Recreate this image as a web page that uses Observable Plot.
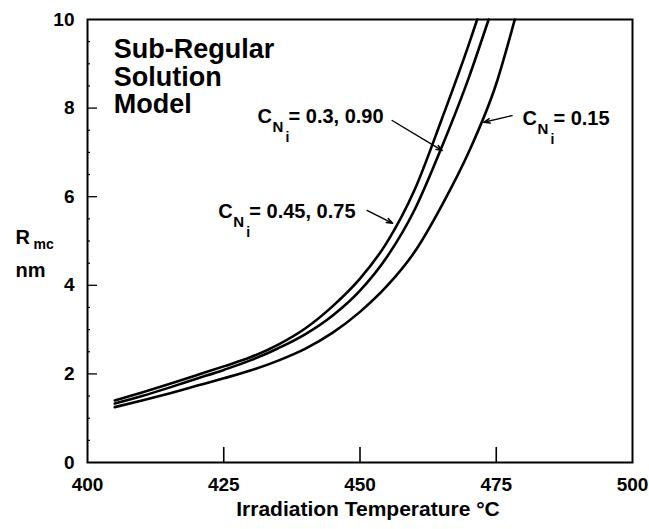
<!DOCTYPE html>
<html><head><meta charset="utf-8">
<script src="https://cdn.jsdelivr.net/npm/d3@7"></script>
<script src="https://cdn.jsdelivr.net/npm/@observablehq/plot@0.6"></script>
<style>body{margin:0;background:#fff}</style>
</head><body><div id="chart"></div>
<script>
// Axis ticks
const xTicks = [400, 425, 450, 475, 500];
const xInnerTicks = [425, 450, 475];
const yTicks = [0, 2, 4, 6, 8, 10];
const yMajorInner = [2, 4, 6, 8];
const yMinorInner = [0.5, 1, 1.5, 2.5, 3, 3.5, 4.5, 5, 5.5, 6.5, 7, 7.5, 8.5, 9, 9.5];

// Curve: C_Ni = 0.45, 0.75 (left curve)
const tempA = [405, 410, 415, 420, 425, 430, 435, 440, 445, 450, 455, 460, 465, 470, 471.5];
const radA  = [1.40, 1.58, 1.77, 1.97, 2.17, 2.38, 2.66, 3.03, 3.53, 4.15, 4.98, 6.15, 7.75, 9.45, 10.0];
// Curve: C_Ni = 0.3, 0.90 (middle curve)
const tempB = [405, 410, 415, 420, 425, 430, 435, 440, 445, 450, 455, 460, 465, 470, 473.6];
const radB  = [1.33, 1.50, 1.69, 1.89, 2.09, 2.31, 2.58, 2.90, 3.32, 3.88, 4.65, 5.70, 7.12, 8.70, 10.0];
// Curve: C_Ni = 0.15 (right curve)
const tempC = [405, 410, 415, 420, 425, 430, 435, 440, 445, 450, 455, 460, 465, 470, 475, 478.4];
const radC  = [1.25, 1.40, 1.56, 1.73, 1.90, 2.08, 2.30, 2.57, 2.93, 3.40, 3.99, 4.75, 5.80, 7.02, 8.55, 10.0];

// Annotations
const labelNames = ["= 0.3, 0.90", "= 0.45, 0.75", "= 0.15"];
const labelT = [431.2, 424.0, 479.8];
const labelR = [7.67, 5.53, 7.61];
const arrowT1 = [455.9, 451.3, 477.9];
const arrowR1 = [7.72, 5.69, 7.83];
const arrowT2 = [465.1, 456.0, 472.7];
const arrowR2 = [7.04, 5.40, 7.68];

const modelText = ["Sub-Regular", "Solution", "Model"];
const modelT = [404.8];
const modelR = [9.565];
const xTitle = "Irradiation Temperature °C";
const yTitle = "R", yTitleSub = "mc", yUnit = "nm";
const yTitleR = [4.94, 4.18];

const series = [
  {name: "0.45, 0.75", T: tempA, R: radA},
  {name: "0.3, 0.90", T: tempB, R: radB},
  {name: "0.15", T: tempC, R: radC}
];
const curveData = series.flatMap(s => s.T.map((t, i) => ({series: s.name, T: t, R: s.R[i]})));
const labels = labelNames.map((txt, i) => ({txt, T: labelT[i], R: labelR[i]}));
const arrows = arrowT1.map((t, i) => ({x1: t, y1: arrowR1[i], x2: arrowT2[i], y2: arrowR2[i]}));

const W = 649, H = 529, mL = 87, mR = 17, mT = 19, mB = 67;
const fw = W - mL - mR, fh = H - mT - mB;
const font = "'Liberation Sans', Arial, Helvetica, sans-serif";

const chart = Plot.plot({
  width: W, height: H,
  marginLeft: mL, marginRight: mR, marginTop: mT, marginBottom: mB,
  x: {domain: [400, 500]},
  y: {domain: [0, 10]},
  style: {fontFamily: font, fontSize: "19px", fontWeight: "bold", background: "white", color: "black"},
  marks: [
    Plot.axisX({ticks: xTicks, tickSize: 0, tickPadding: 15, label: null, tickFormat: d => String(d)}),
    Plot.axisY({ticks: yTicks, tickSize: 0, tickPadding: 13, label: null, tickFormat: d => String(d)}),
    Plot.tickX(xInnerTicks, {x: d => d, insetTop: fh - 15, strokeWidth: 1.6}),
    Plot.tickY(yMajorInner, {y: d => d, insetRight: fw - 10, strokeWidth: 1.3}),
    Plot.tickY(yMinorInner, {y: d => d, insetRight: fw - 3, strokeWidth: 1.2}),
    Plot.frame({stroke: "black", strokeWidth: 2}),
    Plot.line(curveData, {x: "T", y: "R", z: "series", curve: "monotone-x", stroke: "black", strokeWidth: 2.6}),
    Plot.arrow(arrows, {x1: "x1", y1: "y1", x2: "x2", y2: "y2", headLength: 7, headAngle: 40, strokeWidth: 1.4, stroke: "black"}),
    Plot.text(labels, {x: "T", y: "R", text: () => "C", textAnchor: "start", lineAnchor: "bottom", fontSize: 20}),
    Plot.text(labels, {x: "T", y: "R", text: () => "N", textAnchor: "start", lineAnchor: "bottom", dx: 15, dy: 9, fontSize: 15}),
    Plot.text(labels, {x: "T", y: "R", text: () => "i", textAnchor: "start", lineAnchor: "bottom", dx: 28, dy: 19, fontSize: 14}),
    Plot.text(labels, {x: "T", y: "R", text: "txt", textAnchor: "start", lineAnchor: "bottom", dx: 31, fontSize: 20}),
    Plot.text([modelText.join("\n")], {x: () => modelT[0], y: () => modelR[0], textAnchor: "start", lineAnchor: "top", lineHeight: 1.02, fontSize: 27}),
    Plot.text([yTitle], {frameAnchor: "left", y: () => yTitleR[0], dx: -72, textAnchor: "start", lineAnchor: "bottom", fontSize: 20}),
    Plot.text([yTitleSub], {frameAnchor: "left", y: () => yTitleR[0], dx: -54, dy: 5, textAnchor: "start", lineAnchor: "bottom", fontSize: 14}),
    Plot.text([yUnit], {frameAnchor: "left", y: () => yTitleR[1], dx: -72, textAnchor: "start", lineAnchor: "bottom", fontSize: 20}),
    Plot.text([xTitle], {frameAnchor: "bottom", dx: 8, dy: 53, lineAnchor: "bottom", fontSize: 21})
  ]
});
document.getElementById("chart").appendChild(chart);
</script>
</body></html>
